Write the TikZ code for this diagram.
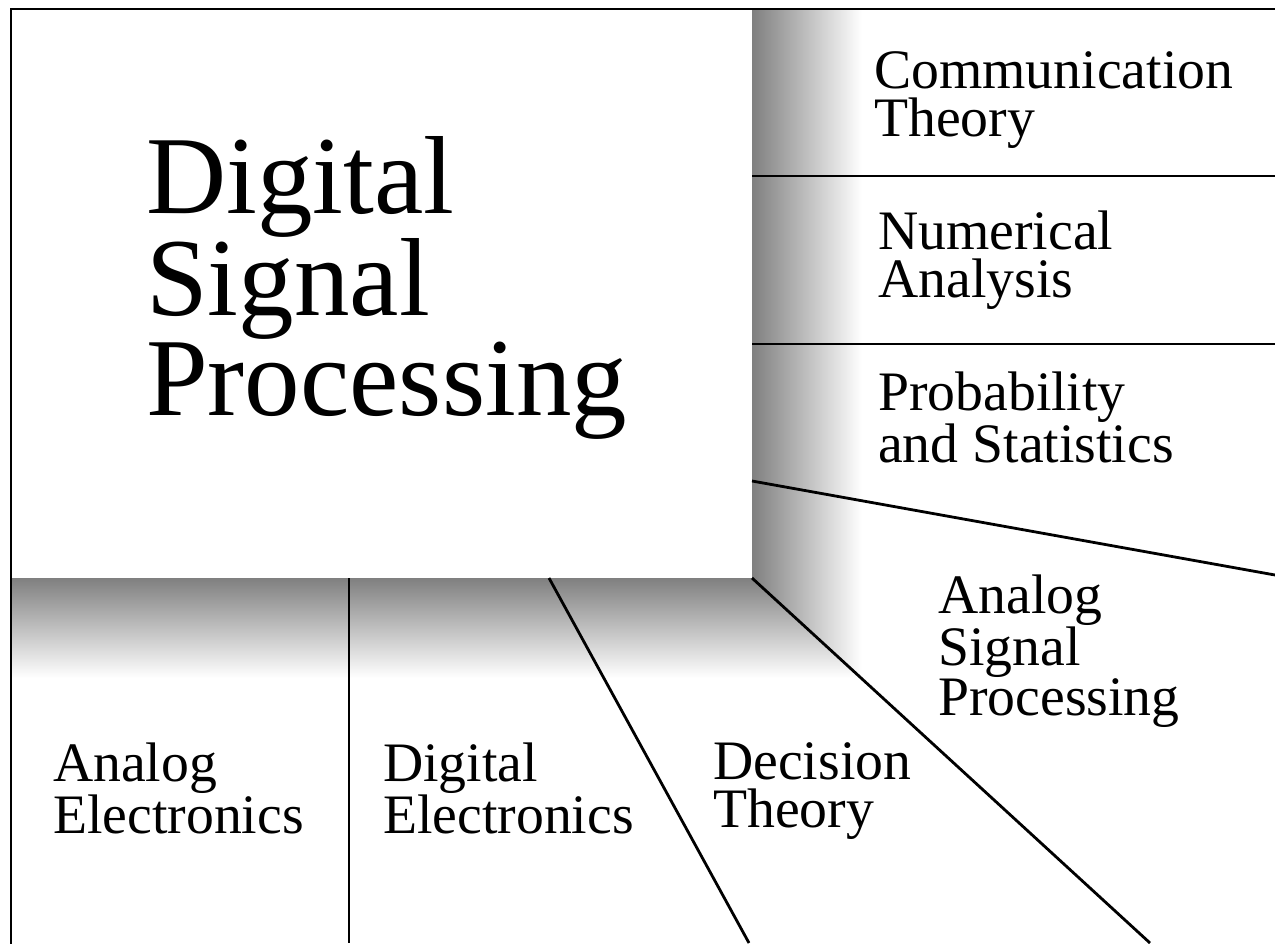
\documentclass[tikz,border=0pt]{standalone}
\usepackage{fontspec}
\setmainfont{Liberation Serif}
\begin{document}
\begin{tikzpicture}[x=1pt,y=-1pt,
  divider/.style={line width=2.8pt,black},
  smalltext/.style={anchor=base west,inner sep=0pt,align=left,
    font=\fontsize{55.7}{48}\selectfont},
  bigtext/.style={anchor=base west,inner sep=0pt,align=left,
    font=\fontsize{111}{100}\selectfont}]
\useasboundingbox (0,0) rectangle (1275,943);
\fill[white] (0,0) rectangle (1275,943);
% shadings
\shade[left color=gray,right color=white]
  (752,10) -- (862,10) -- (862,678) -- (752,578) -- cycle;
\shade[top color=gray,bottom color=white]
  (11,578) -- (752,578) -- (862,678) -- (11,678) -- cycle;
% named points
\coordinate (tl) at (11,9);
\coordinate (tr) at (1275,9);
\coordinate (bl) at (11,943);
\coordinate (corner) at (752,578);
\coordinate (h1l) at (752,176);
\coordinate (h1r) at (1275,176);
\coordinate (h2l) at (752,344);
\coordinate (h2r) at (1275,344);
\coordinate (h3l) at (752,481);
\coordinate (h3r) at (1275,575);
\coordinate (v1t) at (349,578);
\coordinate (v1b) at (349,943);
\coordinate (d1t) at (549,578);
\coordinate (d1b) at (749,943);
\coordinate (d2b) at (1150,943);
% border
\draw[divider,line cap=rect] (bl) -- (tl) -- (tr);
% dividers
\draw[divider] (h1l) -- (h1r);
\draw[divider] (h2l) -- (h2r);
\draw[divider] (h3l) -- (h3r);
\draw[divider] (v1t) -- (v1b);
\draw[divider] (d1t) -- (d1b);
\draw[divider] (corner) -- (d2b);
% texts (anchor = baseline of the last line)
\node[bigtext] (dsp) at (146,415) {Digital\\Signal\\Processing};
\node[smalltext] (comm) at (874,136) {Communication\\Theory};
\node[smalltext] (num) at (878,297) {Numerical\\Analysis};
\node[smalltext] (prob) at (878,462) {Probability\\and Statistics};
\node[smalltext] (asp) at (938,715) {Analog\\Signal\\Processing};
\node[smalltext] (ae) at (53,833) {Analog\\Electronics};
\node[smalltext] (de) at (383,833) {Digital\\Electronics};
\node[smalltext] (dt) at (713,827) {Decision\\Theory};
\end{tikzpicture}
\end{document}
